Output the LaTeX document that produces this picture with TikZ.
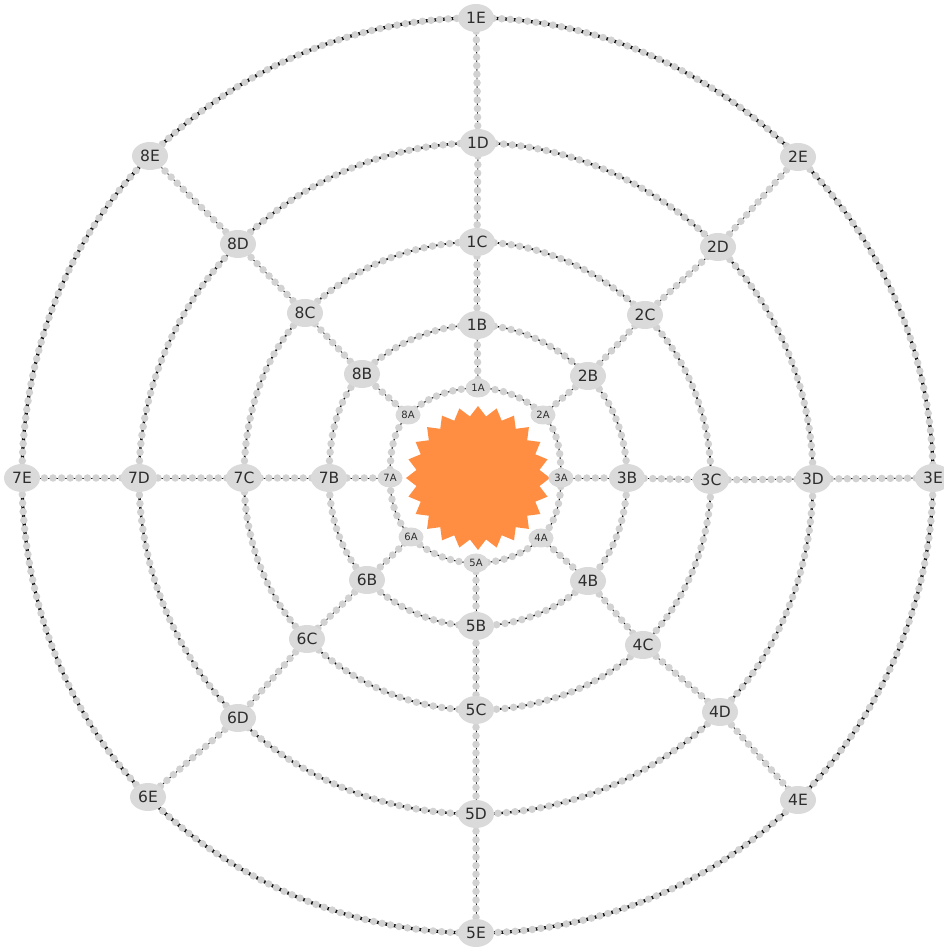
\documentclass[tikz,border=0pt]{standalone}
\usepackage{fontspec}
\newfontfamily\lblfont{DejaVu Sans}
\usetikzlibrary{shapes.geometric,backgrounds}
\definecolor{dotgray}{RGB}{210,210,210}
\definecolor{nodegray}{RGB}{218,218,218}
\definecolor{txt}{RGB}{45,45,45}
\definecolor{linkdark}{RGB}{15,15,15}
\definecolor{sunorange}{RGB}{255,141,66}
\begin{document}
\begin{tikzpicture}[x=1pt,y=1pt,
  lbl/.style={ellipse, fill=nodegray, text=txt, inner sep=0pt, minimum width=36pt, minimum height=28pt, font=\lblfont\fontsize{15.5}{16}\selectfont},
  lblsmall/.style={lbl, minimum width=25pt, minimum height=19pt, font=\lblfont\fontsize{10}{11}\selectfont},
  link/.style={preaction={draw=linkdark, solid, line cap=butt, line width=#1}, draw=dotgray, line width=7.5pt, line cap=round, dash pattern=on 0pt off 8.6pt},
  spoke/.style={link=0.9pt}
]
\useasboundingbox (0,0) rectangle (943,947);

\node[star, star points=24, star point height=10pt, minimum size=144pt, inner sep=0pt, fill=sunorange] (sun) at (478,469) {};

% ring A
\node[lblsmall] (nA1) at (478,559) {1A};
\node[lblsmall] (nA2) at (543,532) {2A};
\node[lblsmall] (nA3) at (561,469) {3A};
\node[lblsmall] (nA4) at (541,409) {4A};
\node[lblsmall] (nA5) at (476,384) {5A};
\node[lblsmall] (nA6) at (411,410) {6A};
\node[lblsmall] (nA7) at (390,469) {7A};
\node[lblsmall] (nA8) at (408,532) {8A};
% ring B
\node[lbl] (nB1) at (477,622) {1B};
\node[lbl] (nB2) at (588,571) {2B};
\node[lbl] (nB3) at (627,469) {3B};
\node[lbl] (nB4) at (588,366) {4B};
\node[lbl] (nB5) at (476,321) {5B};
\node[lbl] (nB6) at (367,367) {6B};
\node[lbl] (nB7) at (329,469) {7B};
\node[lbl] (nB8) at (362,573) {8B};
% ring C
\node[lbl] (nC1) at (477,705) {1C};
\node[lbl] (nC2) at (645,632) {2C};
\node[lbl] (nC3) at (711,467) {3C};
\node[lbl] (nC4) at (643,302) {4C};
\node[lbl] (nC5) at (476,237) {5C};
\node[lbl] (nC6) at (307,308) {6C};
\node[lbl] (nC7) at (244,469) {7C};
\node[lbl] (nC8) at (305,634) {8C};
% ring D
\node[lbl] (nD1) at (478,804) {1D};
\node[lbl] (nD2) at (718,700) {2D};
\node[lbl] (nD3) at (813,468) {3D};
\node[lbl] (nD4) at (720,235) {4D};
\node[lbl] (nD5) at (476,133) {5D};
\node[lbl] (nD6) at (238,229) {6D};
\node[lbl] (nD7) at (139,469) {7D};
\node[lbl] (nD8) at (238,703) {8D};
% ring E
\node[lbl] (nE1) at (476,929) {1E};
\node[lbl] (nE2) at (798,790) {2E};
\node[lbl] (nE3) at (933,469) {3E};
\node[lbl] (nE4) at (798,147) {4E};
\node[lbl] (nE5) at (476,14) {5E};
\node[lbl] (nE6) at (148,150) {6E};
\node[lbl] (nE7) at (22,469) {7E};
\node[lbl] (nE8) at (150,791) {8E};

\begin{scope}[on background layer]
  \foreach \r/\w in {A/1.1pt,B/1.4pt,C/1.8pt,D/2.4pt,E/3.2pt}{
    \foreach \i [evaluate=\i as \j using {int(mod(\i,8)+1)},
                 evaluate=\i as \o using {int(-45*(\i-1))},
                 evaluate=\i as \n using {int(180-45*\i)}] in {1,...,8}{
      \draw[link=\w] (n\r\i.center) to[out=\o, in=\n, looseness=0.885] (n\r\j.center);
    }
  }
  \foreach \i in {1,...,8}{
    \draw[spoke] (nA\i.center) -- (nB\i.center);
    \draw[spoke] (nB\i.center) -- (nC\i.center);
    \draw[spoke] (nC\i.center) -- (nD\i.center);
    \draw[spoke] (nD\i.center) -- (nE\i.center);
  }
\end{scope}
\end{tikzpicture}
\end{document}
